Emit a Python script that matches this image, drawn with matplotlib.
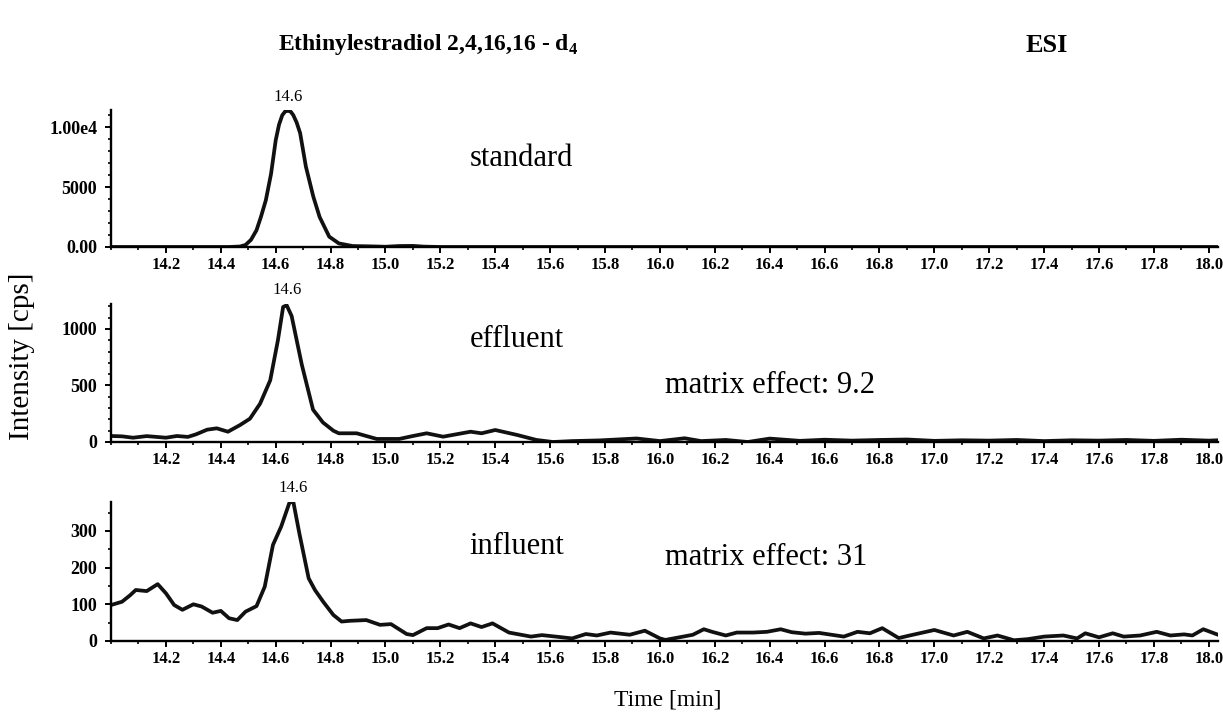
import matplotlib.pyplot as plt
from matplotlib.ticker import MultipleLocator

# time axis ticks (min)
time_ticks = [14.2, 14.4, 14.6, 14.8, 15.0, 15.2, 15.4, 15.6, 15.8, 16.0,
              16.2, 16.4, 16.6, 16.8, 17.0, 17.2, 17.4, 17.6, 17.8, 18.0]

# standard
std_t = [14.00, 14.43, 14.47, 14.49, 14.51, 14.53, 14.546, 14.564, 14.583, 14.60,
         14.612, 14.624, 14.635, 14.646, 14.655, 14.664, 14.676, 14.689, 14.71, 14.737,
         14.76, 14.795, 14.83, 14.88, 14.95, 15.00, 15.05, 15.10, 15.14, 15.20, 18.03]
std_i = [0, 0, 40, 170, 600, 1400, 2500, 3900, 6100, 8900,
         10200, 11000, 11320, 11360, 11280, 11000, 10400, 9500, 6700, 4200,
         2500, 860, 300, 80, 50, 20, 80, 90, 30, 0, 0]

# effluent
eff_t = [14.00, 14.04, 14.08, 14.13, 14.20, 14.24, 14.28, 14.31, 14.35, 14.385,
         14.426, 14.47, 14.506, 14.543, 14.58, 14.608, 14.627, 14.64, 14.658, 14.695,
         14.736, 14.772, 14.81, 14.83, 14.895, 14.93, 14.968, 15.05, 15.10, 15.15,
         15.21, 15.31, 15.35, 15.40, 15.48, 15.55, 15.61, 15.68, 15.78, 15.915,
         16.00, 16.09, 16.15, 16.24, 16.32, 16.40, 16.51, 16.60, 16.70, 16.80,
         16.90, 17.00, 17.10, 17.20, 17.30, 17.40, 17.50, 17.60, 17.70, 17.80,
         17.90, 18.00, 18.03]
eff_i = [53, 50, 38, 52, 38, 53, 45, 68, 109, 121,
         91, 150, 206, 339, 546, 900, 1195, 1210, 1115, 685,
         286, 173, 100, 77, 77, 53, 27, 27, 53, 77,
         47, 91, 77, 106, 62, 18, 0, 8, 14, 31,
         8, 33, 8, 18, 0, 30, 10, 20, 12, 18,
         22, 10, 15, 12, 18, 8, 15, 12, 18, 10,
         20, 12, 15]

# influent
inf_t = [14.00, 14.04, 14.07, 14.09, 14.13, 14.17, 14.20, 14.23, 14.26, 14.30,
         14.33, 14.37, 14.40, 14.43, 14.46, 14.49, 14.53, 14.56, 14.59, 14.62,
         14.65, 14.664, 14.686, 14.72, 14.743, 14.773, 14.81, 14.84, 14.87, 14.93,
         14.98, 15.02, 15.077, 15.10, 15.15, 15.19, 15.23, 15.27, 15.31, 15.35,
         15.39, 15.45, 15.53, 15.57, 15.62, 15.68, 15.73, 15.77, 15.82, 15.89,
         15.945, 16.00, 16.02, 16.085, 16.12, 16.16, 16.19, 16.24, 16.28, 16.34,
         16.39, 16.44, 16.48, 16.53, 16.58, 16.67, 16.72, 16.765, 16.81, 16.87,
         16.91, 17.00, 17.07, 17.12, 17.18, 17.23, 17.29, 17.34, 17.40, 17.47,
         17.52, 17.55, 17.60, 17.65, 17.69, 17.75, 17.81, 17.86, 17.91, 17.94,
         17.98, 18.03]
inf_i = [98, 107, 125, 139, 136, 155, 130, 98, 85, 100,
         94, 77, 82, 62, 57, 80, 95, 148, 262, 312,
         377, 380, 294, 171, 139, 107, 71, 53, 55, 57,
         44, 46, 19, 16, 35, 35, 45, 35, 48, 38,
         48, 23, 12, 16, 12, 7, 19, 15, 23, 17,
         28, 7, 3, 12, 17, 32, 25, 15, 23, 23,
         25, 32, 24, 20, 22, 12, 25, 21, 35, 8,
         15, 30, 15, 25, 7, 15, 2, 5, 12, 15,
         7, 21, 10, 21, 12, 15, 25, 15, 18, 15,
         32, 18]

series = [std_t, eff_t, inf_t]
values = [std_i, eff_i, inf_i]
peak_labels = ['14.6', '14.6', '14.6']
ylims = [11420, 1221, 379]
yticks = [[0, 5000, 10000], [0, 500, 1000], [0, 100, 200, 300]]
ytick_labels = [['0.00', '5000', '1.00e4'], ['0', '500', '1000'], ['0', '100', '200', '300']]
yminor = [1000, 100, 50]
sample_names = ['standard', 'effluent', 'influent']
matrix_effects = [None, 'matrix effect: 9.2', 'matrix effect: 31']

plt.rcParams['font.family'] = ['Liberation Serif', 'DejaVu Serif']
plt.rcParams['mathtext.fontset'] = 'custom'
plt.rcParams['mathtext.rm'] = 'Liberation Serif'
plt.rcParams['mathtext.bf'] = 'Liberation Serif:bold'

fig = plt.figure(figsize=(12.23, 7.13), dpi=100)
left, width = 0.0908, 0.905
boxes = [(0.6536, 0.192), (0.3801, 0.1935), (0.101, 0.195)]
name_y = [0.65, 0.74, 0.683]
me_y = [None, 0.413, 0.597]

for k in range(3):
    bottom, height = boxes[k]
    ax = fig.add_axes([left, bottom, width, height])
    ax.plot(series[k], values[k], color='#111111', lw=2.7, solid_joinstyle='round')
    ax.set_xlim(14.0, 18.033)
    ax.set_ylim(0, ylims[k])
    for s in ['top', 'right']:
        ax.spines[s].set_visible(False)
    for s in ['left', 'bottom']:
        ax.spines[s].set_linewidth(1.7)
    ax.set_xticks(time_ticks)
    ax.set_xticklabels([f'{v:.1f}' for v in time_ticks], fontweight='bold', fontsize=12)
    ax.xaxis.set_minor_locator(MultipleLocator(0.1))
    ax.set_yticks(yticks[k])
    ax.set_yticklabels(ytick_labels[k], fontweight='bold', fontsize=13)
    ax.yaxis.set_minor_locator(MultipleLocator(yminor[k]))
    ax.tick_params(which='major', direction='out', length=4, width=1.4, pad=3)
    ax.tick_params(which='minor', direction='out', length=2.5, width=1.2)
    ax.tick_params(axis='y', which='major', pad=6)

    # peak apex label
    imax = values[k].index(max(values[k]))
    ax.annotate(peak_labels[k], (series[k][imax], ylims[k]), xytext=(0, 4),
                textcoords='offset points', ha='center', va='bottom',
                fontsize=12, annotation_clip=False)

    ax.text(0.324, name_y[k], sample_names[k], transform=ax.transAxes,
            fontsize=22, ha='left', va='center')
    if matrix_effects[k]:
        ax.text(0.5005, me_y[k], matrix_effects[k], transform=ax.transAxes,
                fontsize=22, ha='left', va='center')

fig.text(0.350, 0.938, r'Ethinylestradiol 2,4,16,16 - d$_{\mathbf{4}}$', fontsize=17,
         fontweight='bold', ha='center', va='center')
fig.text(0.856, 0.936, 'ESI', fontsize=19, fontweight='bold', ha='center', va='center')
fig.text(0.018, 0.5, 'Intensity [cps]', fontsize=21, rotation=90, ha='center', va='center')
fig.text(0.546, 0.018, 'Time [min]', fontsize=17, ha='center', va='center')

fig.savefig('out.png', dpi=100)
